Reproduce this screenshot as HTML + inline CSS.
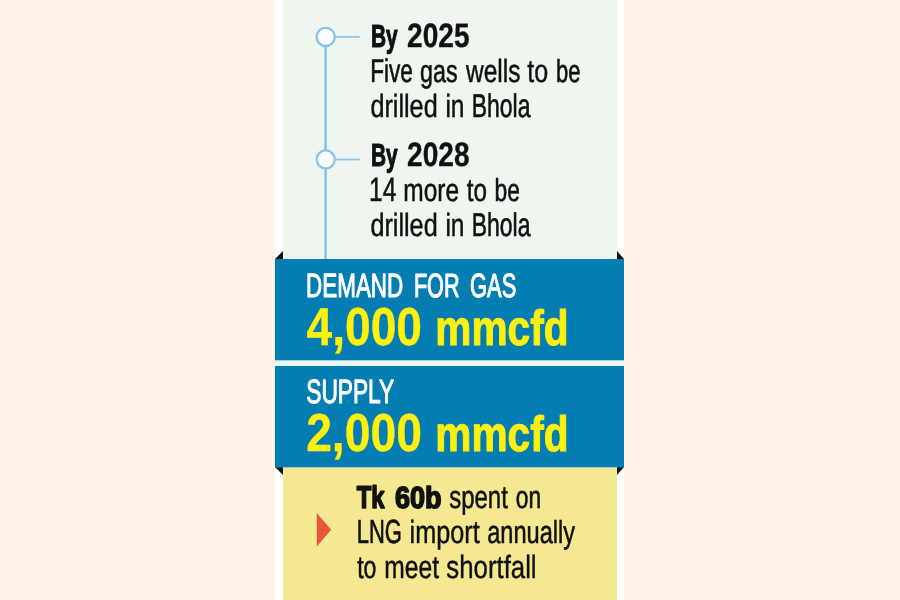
<!DOCTYPE html>
<html lang="en">
<head>
<meta charset="utf-8">
<title>Gas demand and supply</title>
<style>
html,body{margin:0;padding:0;}
body{width:900px;height:600px;overflow:hidden;background:#fef3e8;font-family:"Liberation Sans",sans-serif;}
svg{display:block;}
text{font-family:"Liberation Sans",sans-serif;text-rendering:geometricPrecision;}
.b{font-weight:bold;}
</style>
</head>
<body>
<svg width="900" height="600" viewBox="0 0 900 600">
  <rect x="0" y="0" width="900" height="600" fill="#fef3e8"/>
  <!-- white column -->
  <rect x="275" y="0" width="349" height="600" fill="#ffffff"/>
  <!-- green panel -->
  <rect x="283" y="0" width="334" height="262" fill="#eff6ef"/>
  <!-- timeline -->
  <g stroke="#86c3ea" fill="none">
    <line x1="325.6" y1="46" x2="325.6" y2="260" stroke-width="2.6"/>
    <line x1="335" y1="36.9" x2="359.7" y2="36.9" stroke-width="1.7"/>
    <line x1="335" y1="159.5" x2="359.7" y2="159.5" stroke-width="1.7"/>
    <circle cx="325.7" cy="36.9" r="9.1" stroke-width="2.3" fill="#fcfdfd"/>
    <circle cx="325.7" cy="159.5" r="9.1" stroke-width="2.3" fill="#fcfdfd"/>
  </g>
  <!-- fold triangles -->
  <polygon points="275,259 283,251 283,259" fill="#111"/>
  <polygon points="624,259 617,251 617,259" fill="#111"/>
  <polygon points="275,467 283,467 283,475" fill="#111"/>
  <polygon points="624,467 617,467 617,475" fill="#111"/>
  <!-- blue bars -->
  <rect x="275" y="259" width="349" height="208.6" fill="#047db3"/>
  <rect x="275" y="360.3" width="349" height="5.7" fill="#eaf6f3"/>
  <!-- yellow panel -->
  <rect x="283" y="467.6" width="334" height="133" fill="#f4e890"/>
  <polygon points="316.8,513 316.8,546.5 331.2,529.7" fill="#e5573a"/>
  <text id="t1" class="b" y="47" fill="#111" stroke="#111" stroke-linejoin="round"><tspan id="t1_0" x="370.97" font-size="32.06" textLength="26.63" lengthAdjust="spacingAndGlyphs" stroke-width="1.14">By</tspan> <tspan id="t1_1" x="407.10" font-size="33.88" textLength="62.38" lengthAdjust="spacingAndGlyphs" stroke-width="0.36">2025</tspan></text>
  <text id="t2" y="82" fill="#111" stroke="#111" stroke-linejoin="round"><tspan id="t2_0" x="370.13" font-size="32.75" textLength="42.65" lengthAdjust="spacingAndGlyphs" stroke-width="0.66">Five</tspan> <tspan id="t2_1" x="420.02" font-size="31.84" textLength="37.61" lengthAdjust="spacingAndGlyphs" stroke-width="0.58">gas</tspan> <tspan id="t2_2" x="466.06" font-size="31.96" textLength="54.40" lengthAdjust="spacingAndGlyphs" stroke-width="0.50">wells</tspan> <tspan id="t2_3" x="527.31" font-size="32.02" textLength="20.92" lengthAdjust="spacingAndGlyphs" stroke-width="0.45">to</tspan> <tspan id="t2_4" x="556.11" font-size="31.68" textLength="24.43" lengthAdjust="spacingAndGlyphs" stroke-width="0.69">be</tspan></text>
  <text id="t3" y="117" fill="#111" stroke="#111" stroke-linejoin="round"><tspan id="t3_0" x="370.38" font-size="32.03" textLength="67.29" lengthAdjust="spacingAndGlyphs" stroke-width="0.45">drilled</tspan> <tspan id="t3_1" x="445.39" font-size="31.97" textLength="19.10" lengthAdjust="spacingAndGlyphs" stroke-width="0.49">in</tspan> <tspan id="t3_2" x="471.69" font-size="32.80" textLength="58.72" lengthAdjust="spacingAndGlyphs" stroke-width="0.63">Bhola</tspan></text>
  <text id="t4" class="b" y="166" fill="#111" stroke="#111" stroke-linejoin="round"><tspan id="t4_0" x="370.97" font-size="32.06" textLength="26.63" lengthAdjust="spacingAndGlyphs" stroke-width="1.14">By</tspan> <tspan id="t4_1" x="407.09" font-size="33.88" textLength="62.43" lengthAdjust="spacingAndGlyphs" stroke-width="0.36">2028</tspan></text>
  <text id="t5" y="201" fill="#111" stroke="#111" stroke-linejoin="round"><tspan id="t5_0" x="369.09" font-size="33.64" textLength="27.20" lengthAdjust="spacingAndGlyphs" stroke-width="0.52">14</tspan> <tspan id="t5_1" x="403.37" font-size="31.96" textLength="55.72" lengthAdjust="spacingAndGlyphs" stroke-width="0.50">more</tspan> <tspan id="t5_2" x="466.79" font-size="31.94" textLength="20.24" lengthAdjust="spacingAndGlyphs" stroke-width="0.51">to</tspan> <tspan id="t5_3" x="494.49" font-size="31.77" textLength="25.35" lengthAdjust="spacingAndGlyphs" stroke-width="0.62">be</tspan></text>
  <text id="t6" y="236" fill="#111" stroke="#111" stroke-linejoin="round"><tspan id="t6_0" x="370.38" font-size="32.03" textLength="67.29" lengthAdjust="spacingAndGlyphs" stroke-width="0.45">drilled</tspan> <tspan id="t6_1" x="445.39" font-size="31.97" textLength="19.10" lengthAdjust="spacingAndGlyphs" stroke-width="0.49">in</tspan> <tspan id="t6_2" x="471.69" font-size="32.80" textLength="58.72" lengthAdjust="spacingAndGlyphs" stroke-width="0.63">Bhola</tspan></text>
  <text id="t7" y="297" fill="#fff" stroke="#fff" stroke-linejoin="round"><tspan id="t7_0" x="306.11" font-size="33.51" textLength="97.11" lengthAdjust="spacingAndGlyphs" stroke-width="1.16">DEMAND</tspan> <tspan id="t7_1" x="413.91" font-size="33.46" textLength="45.64" lengthAdjust="spacingAndGlyphs" stroke-width="1.20">FOR</tspan> <tspan id="t7_2" x="470.11" font-size="33.46" textLength="46.08" lengthAdjust="spacingAndGlyphs" stroke-width="1.20">GAS</tspan></text>
  <text id="t8" class="b" y="345" fill="#fef00d" stroke="#fef00d" stroke-linejoin="round"><tspan id="t8_0" x="306.49" font-size="53.29" textLength="115.56" lengthAdjust="spacingAndGlyphs" stroke-width="0.35">4,000</tspan> <tspan id="t8_1" x="435.34" font-size="49.65" textLength="133.16" lengthAdjust="spacingAndGlyphs" stroke-width="1.01">mmcfd</tspan></text>
  <text id="t9" y="403" fill="#fff" stroke="#fff" stroke-linejoin="round"><tspan id="t9_0" x="306.24" font-size="33.56" textLength="87.98" lengthAdjust="spacingAndGlyphs" stroke-width="1.13">SUPPLY</tspan></text>
  <text id="t10" class="b" y="451" fill="#fef00d" stroke="#fef00d" stroke-linejoin="round"><tspan id="t10_0" x="306.14" font-size="53.30" textLength="115.73" lengthAdjust="spacingAndGlyphs" stroke-width="0.34">2,000</tspan> <tspan id="t10_1" x="435.34" font-size="49.65" textLength="133.16" lengthAdjust="spacingAndGlyphs" stroke-width="1.01">mmcfd</tspan></text>
  <text id="t11" class="b" y="508" fill="#111" stroke="#111" stroke-linejoin="round"><tspan id="t11_0" x="356.67" font-size="31.39" textLength="27.82" lengthAdjust="spacingAndGlyphs" stroke-width="1.60">Tk</tspan> <tspan id="t11_1" x="394.95" font-size="30.35" textLength="46.59" lengthAdjust="spacingAndGlyphs" stroke-width="1.60">60b</tspan></text>
  <text id="t12" y="508" fill="#111" stroke="#111" stroke-linejoin="round"><tspan id="t12_0" x="449.19" font-size="31.91" textLength="58.70" lengthAdjust="spacingAndGlyphs" stroke-width="0.53">spent</tspan> <tspan id="t12_1" x="515.83" font-size="31.78" textLength="25.37" lengthAdjust="spacingAndGlyphs" stroke-width="0.62">on</tspan></text>
  <text id="t13" y="543" fill="#111" stroke="#111" stroke-linejoin="round"><tspan id="t13_0" x="356.80" font-size="33.34" textLength="45.10" lengthAdjust="spacingAndGlyphs" stroke-width="0.73">LNG</tspan> <tspan id="t13_1" x="409.59" font-size="32.03" textLength="70.09" lengthAdjust="spacingAndGlyphs" stroke-width="0.45">import</tspan> <tspan id="t13_2" x="487.14" font-size="31.87" textLength="87.94" lengthAdjust="spacingAndGlyphs" stroke-width="0.56">annually</tspan></text>
  <text id="t14" y="578" fill="#111" stroke="#111" stroke-linejoin="round"><tspan id="t14_0" x="357.14" font-size="31.81" textLength="19.25" lengthAdjust="spacingAndGlyphs" stroke-width="0.60">to</tspan> <tspan id="t14_1" x="384.30" font-size="31.97" textLength="54.69" lengthAdjust="spacingAndGlyphs" stroke-width="0.49">meet</tspan> <tspan id="t14_2" x="446.33" font-size="32.09" textLength="90.26" lengthAdjust="spacingAndGlyphs" stroke-width="0.41">shortfall</tspan></text>
</svg>
</body>
</html>
